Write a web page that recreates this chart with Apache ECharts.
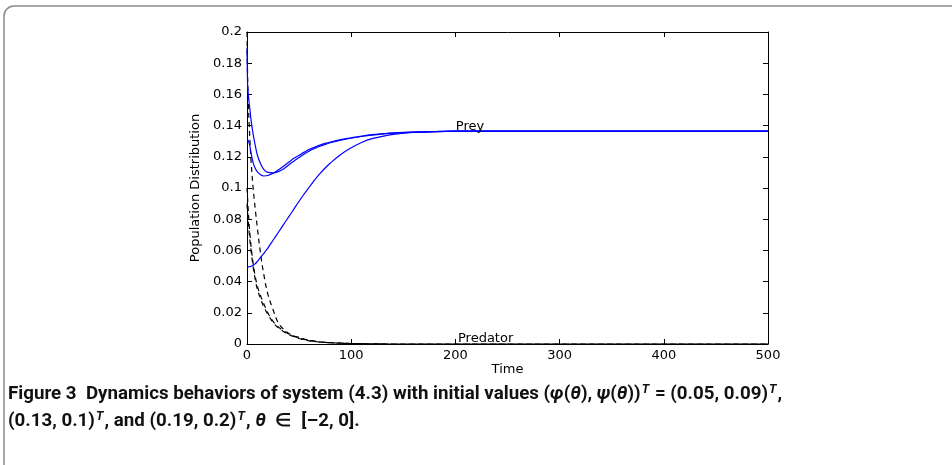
<!DOCTYPE html>
<html>
<head>
<meta charset="utf-8">
<script src="https://cdn.jsdelivr.net/npm/echarts@6/dist/echarts.min.js"></script>
<style>
  html, body { margin: 0; padding: 0; background: #fff; }
  #chart { width: 952px; height: 465px; }
</style>
</head>
<body>
<div id="chart"></div>
<script>
// ---- data ----
const timePoints = [0, 0.5, 1, 2, 3, 4, 6, 8, 10, 13, 16, 20, 25, 30, 35, 40, 45, 50, 55, 60, 65, 70, 75, 80, 90, 100, 110, 120, 137, 156, 180, 200, 250, 300, 400, 500];

// Prey (solid blue), initial values 0.05, 0.13, 0.19
const preyA = [0.0494, 0.0494, 0.0494, 0.0495, 0.0496, 0.0498, 0.0505, 0.0515, 0.053, 0.0555, 0.058, 0.0615, 0.0665, 0.0715, 0.0765, 0.0815, 0.0865, 0.0915, 0.0963, 0.1008, 0.1052, 0.1092, 0.1128, 0.116, 0.1215, 0.1258, 0.1292, 0.1316, 0.1341, 0.1355, 0.1361, 0.1364, 0.1365, 0.1365, 0.1365, 0.1365];
const preyB = [0.131, 0.1308, 0.1305, 0.129, 0.126, 0.122, 0.116, 0.1125, 0.1103, 0.1085, 0.1077, 0.108, 0.1095, 0.1115, 0.114, 0.1165, 0.119, 0.121, 0.123, 0.1248, 0.1262, 0.1275, 0.1286, 0.1295, 0.131, 0.1322, 0.1333, 0.1342, 0.1352, 0.1358, 0.1362, 0.1364, 0.1365, 0.1365, 0.1365, 0.1365];
const preyC = [0.19, 0.168, 0.162, 0.155, 0.149, 0.143, 0.134, 0.127, 0.121, 0.1155, 0.112, 0.110, 0.1097, 0.1105, 0.1122, 0.1148, 0.1172, 0.1195, 0.1218, 0.1238, 0.1254, 0.1268, 0.128, 0.129, 0.1306, 0.1319, 0.133, 0.1339, 0.135, 0.1357, 0.1362, 0.1364, 0.1365, 0.1365, 0.1365, 0.1365];

// Predator (dashed black), initial values 0.09, 0.1, 0.2
const predA = [0.09, 0.085, 0.081, 0.072, 0.065, 0.059, 0.049, 0.041, 0.035, 0.029, 0.024, 0.019, 0.0138, 0.0104, 0.008, 0.006, 0.0047, 0.0035, 0.0027, 0.002, 0.0016, 0.0012, 0.001, 0.0008, 0.0005, 0.0003, 0.0002, 0.0001, 0, 0, 0, 0, 0, 0, 0, 0];
const predB = [0.1, 0.094, 0.088, 0.077, 0.069, 0.062, 0.051, 0.043, 0.037, 0.031, 0.026, 0.020, 0.0145, 0.011, 0.0085, 0.0065, 0.005, 0.0038, 0.0029, 0.0022, 0.0017, 0.0013, 0.001, 0.0008, 0.0005, 0.0003, 0.0002, 0.0001, 0, 0, 0, 0, 0, 0, 0, 0];
const predC = [0.2, 0.175, 0.16, 0.142, 0.128, 0.116, 0.099, 0.086, 0.074, 0.058, 0.045, 0.032, 0.022, 0.0135, 0.0095, 0.0068, 0.0052, 0.0042, 0.0032, 0.0024, 0.0018, 0.0014, 0.0011, 0.0009, 0.0006, 0.0003, 0.0002, 0.0001, 0, 0, 0, 0, 0, 0, 0, 0];

const xTickLabels = ['0', '100', '200', '300', '400', '500'];
const yTickLabels = ['0', '0.02', '0.04', '0.06', '0.08', '0.1', '0.12', '0.14', '0.16', '0.18', '0.2'];

const preyLabel = { text: 'Prey', t: 214, v: 0.1395 };
const predLabel = { text: 'Predator', t: 229, v: 0.0035 };

// ---- chart ----
function pairs(vals) { return timePoints.map((t, i) => [t, vals[i]]); }

const labelFont = { fontFamily: 'DejaVu Sans', fontSize: 13, color: '#000' };

function solid(name, vals) {
  return {
    name, type: 'line', data: pairs(vals), showSymbol: false, smooth: 0.35,
    lineStyle: { color: '#0000ff', width: 1.2 }, z: 3, silent: true
  };
}
function dashed(name, vals) {
  return {
    name, type: 'line', data: pairs(vals), showSymbol: false, smooth: 0.35,
    lineStyle: { color: '#000', width: 1.2, type: [5, 4] }, z: 2, silent: true
  };
}

const series = [
  dashed('predA', predA), dashed('predB', predB), dashed('predC', predC),
  solid('preyA', preyA), solid('preyB', preyB), solid('preyC', preyC)
];
series[3].markPoint = {
  symbol: 'circle', symbolSize: 0, silent: true,
  data: [
    { coord: [preyLabel.t, preyLabel.v], label: Object.assign({ show: true, position: 'inside', formatter: preyLabel.text }, labelFont) },
    { coord: [predLabel.t, predLabel.v], label: Object.assign({ show: true, position: 'inside', formatter: predLabel.text }, labelFont) }
  ]
};

const axisCommon = {
  axisLine: { show: true, onZero: false, lineStyle: { color: '#000', width: 1 } },
  axisTick: { show: true, inside: true, length: 5, lineStyle: { color: '#000', width: 1 } },
  splitLine: { show: false }
};

const caption =
  '{b|Figure 3  Dynamics behaviors of system (4.3) with initial values (}{i|φ}{b|(}{i|θ}{b|), }{i|ψ}{b|(}{i|θ}{b|))}{s|T}{b| = (0.05, 0.09)}{s|T}{b|,}\n' +
  '{b|(0.13, 0.1)}{s|T}{b|, and (0.19, 0.2)}{s|T}{b|, }{i|θ}{b|  ∈  [–2, 0].}';

const capFont = 'Roboto';
const option = {
  animation: false,
  backgroundColor: '#fff',
  grid: { left: 247, right: 184, top: 32, bottom: 121, containLabel: false, outerBoundsMode: 'none' },
  xAxis: [
    Object.assign({
      type: 'value', position: 'bottom', min: 0, max: 500, interval: 100,
      name: 'Time', nameLocation: 'middle', nameGap: 19, nameMoveOverlap: false,
      nameTextStyle: labelFont,
      axisLabel: Object.assign({ margin: 5, formatter: v => xTickLabels[Math.round(v / 100)] }, labelFont)
    }, axisCommon),
    Object.assign({
      type: 'value', position: 'top', min: 0, max: 500, interval: 100,
      axisLabel: { show: false }
    }, axisCommon)
  ],
  yAxis: [
    Object.assign({
      type: 'value', position: 'left', min: 0, max: 0.2, interval: 0.02,
      name: 'Population Distribution', nameLocation: 'middle', nameGap: 44, nameRotate: 90,
      nameTextStyle: labelFont,
      axisLabel: Object.assign({ margin: 5, formatter: v => yTickLabels[Math.round(v / 0.02)] }, labelFont)
    }, axisCommon),
    Object.assign({
      type: 'value', position: 'right', min: 0, max: 0.2, interval: 0.02,
      axisLabel: { show: false }
    }, axisCommon)
  ],
  series,
  graphic: [
    {
      type: 'rect', silent: true, z: -1,
      shape: { x: 4, y: 6, width: 980, height: 480, r: 10 },
      style: { fill: 'none', stroke: '#8a8a8a', lineWidth: 1.5 }
    },
    {
      type: 'text', x: 8, y: 381, scaleX: 1.04, silent: true,
      style: {
        text: caption,
        rich: {
          b: { fontFamily: capFont, fontWeight: 'bold', fontSize: 18, lineHeight: 27, fill: '#111' },
          i: { fontFamily: capFont, fontWeight: 'bold', fontStyle: 'italic', fontSize: 18, lineHeight: 27, fill: '#111' },
          s: { fontFamily: capFont, fontWeight: 'bold', fontStyle: 'italic', fontSize: 12, lineHeight: 27, verticalAlign: 'top', padding: [3, 1, 0, 1], fill: '#111' }
        }
      }
    }
  ]
};

const chart = echarts.init(document.getElementById('chart'), null, { renderer: 'canvas' });
chart.setOption(option);
</script>
</body>
</html>
